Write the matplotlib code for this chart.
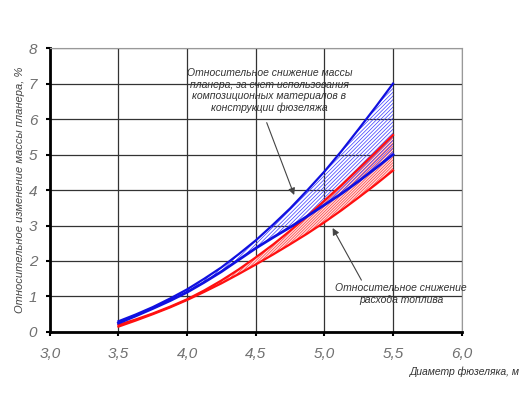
import numpy as np
import matplotlib
matplotlib.use("Agg")
import matplotlib.pyplot as plt

# Curve data (fuselage diameter, m -> %)
d = [3.5, 3.625, 3.75, 3.875, 4.0, 4.125, 4.25, 4.375, 4.5,
     4.625, 4.75, 4.875, 5.0, 5.125, 5.25, 5.375, 5.5]
blue_hi = [0.3, 0.49, 0.7, 0.94, 1.2, 1.5, 1.82, 2.19, 2.58,
           3.02, 3.48, 3.99, 4.52, 5.1, 5.72, 6.35, 7.0]
blue_lo = [0.25, 0.45, 0.66, 0.88, 1.12, 1.4, 1.7, 2.03, 2.36,
           2.66, 2.95, 3.26, 3.58, 3.9, 4.25, 4.62, 5.0]
red_hi = [0.2, 0.35, 0.52, 0.71, 0.92, 1.17, 1.45, 1.76, 2.1,
          2.46, 2.85, 3.26, 3.7, 4.14, 4.6, 5.07, 5.55]
red_lo = [0.15, 0.32, 0.5, 0.69, 0.9, 1.13, 1.37, 1.63, 1.9,
          2.18, 2.47, 2.77, 3.09, 3.43, 3.79, 4.16, 4.55]

xticks = [3.0, 3.5, 4.0, 4.5, 5.0, 5.5, 6.0]
xlabels = ["3,0", "3,5", "4,0", "4,5", "5,0", "5,5", "6,0"]
yticks = [0, 1, 2, 3, 4, 5, 6, 7, 8]

plt.rcParams['hatch.linewidth'] = 0.5
plt.rcParams['font.family'] = ['Liberation Sans', 'DejaVu Sans']

fig = plt.figure(figsize=(5.3, 3.98), dpi=100)
ax = fig.add_axes([0.094, 0.166, 0.777, 0.713])

# hatched areas
ax.fill_between(d, red_lo, red_hi, facecolor='#ffdede', edgecolor='#ff4040',
                hatch='////////////', linewidth=0)
ax.fill_between(d, blue_lo, blue_hi, facecolor='none', edgecolor='#3a3aff',
                hatch='/////////', linewidth=0)

ax.plot(d, red_lo, color='#ff1010', lw=1.6)
ax.plot(d, red_hi, color='#ff1010', lw=1.6)
ax.plot(d, blue_hi, color='#1010e0', lw=1.6)
ax.plot(d, blue_lo, color='#1010e0', lw=2.0)

ax.set_xlim(3.0, 6.0)
ax.set_ylim(0, 8)
ax.set_xticks(xticks)
ax.set_xticklabels(xlabels)
ax.set_yticks(yticks)
ax.grid(True, color='#333333', lw=0.9)
ax.set_axisbelow(True)

for s in ['top', 'right']:
    ax.spines[s].set_color('#999999')
    ax.spines[s].set_linewidth(0.8)
for s in ['left', 'bottom']:
    ax.spines[s].set_color('black')
    ax.spines[s].set_linewidth(2.0)

ax.tick_params(axis='both', length=3, width=1.5, color='black',
               labelcolor='#707070', labelsize=11, pad=6)
for lab in ax.get_xticklabels() + ax.get_yticklabels():
    lab.set_fontstyle('italic')
ax.tick_params(axis='x', pad=8)

ax.set_ylabel('Относительное изменение массы планера, %', fontsize=8,
              fontstyle='italic', color='#444444', labelpad=3)
fig.text(0.981, 0.058, 'Диаметр фюзеляка, м', fontsize=7.5, fontstyle='italic',
         color='#333333', ha='right')

# annotations
ax.text(4.6, 6.8, 'Относительное снижение массы\nпланера, за счет использования\n'
        'композиционных материалов в\nконструкции фюзеляжа',
        ha='center', va='center', fontsize=7.5, fontstyle='italic',
        color='#333333', linespacing=1.2)
ax.annotate('', xy=(4.78, 3.86), xytext=(4.58, 5.9),
            arrowprops=dict(arrowstyle='-|>', color='#444444', lw=0.8,
                            shrinkA=0, shrinkB=0))
ax.text(5.56, 1.07, 'Относительное снижение\nрасхода топлива',
        ha='center', va='center', fontsize=7.5, fontstyle='italic',
        color='#333333', linespacing=1.35)
ax.annotate('', xy=(5.06, 2.93), xytext=(5.27, 1.46),
            arrowprops=dict(arrowstyle='-|>', color='#444444', lw=0.8,
                            shrinkA=0, shrinkB=0))

plt.savefig('out.png', dpi=100)
